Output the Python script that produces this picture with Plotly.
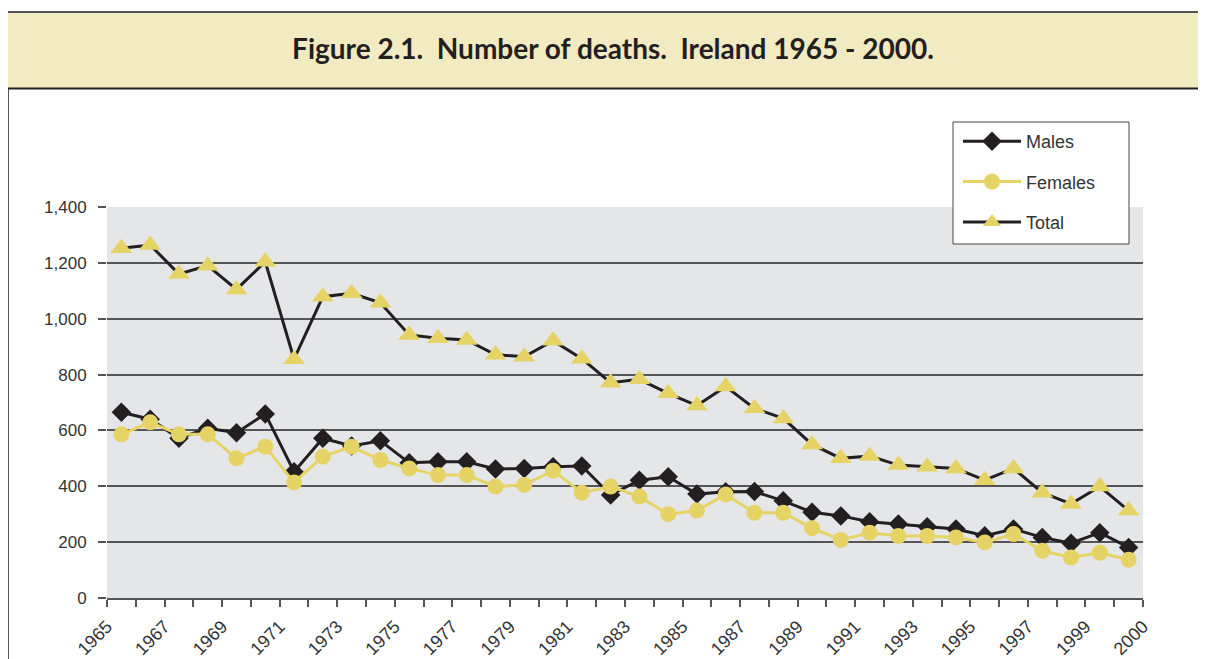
import plotly.graph_objects as go

# ---- data ----
years = list(range(1965, 2001))
males = [665, 640, 572, 608, 592, 659, 452, 572, 544, 563, 484, 488,
         488, 462, 464, 470, 473, 369, 422, 434, 372, 380, 381, 348,
         307, 294, 273, 265, 255, 247, 223, 247, 217, 196, 234, 181]
females = [586, 629, 586, 586, 500, 542, 414, 506, 542, 494, 464, 440,
           440, 399, 405, 456, 377, 399, 363, 300, 313, 371, 305, 305,
           250, 208, 234, 222, 222, 217, 199, 229, 169, 145, 162, 137]
total = [1252, 1264, 1160, 1190, 1105, 1204, 855, 1079, 1091, 1057, 942, 930,
         924, 871, 864, 921, 857, 771, 783, 733, 689, 757, 679, 643,
         550, 500, 508, 476, 470, 464, 422, 464, 377, 337, 399, 313]
tick_labels = ["1965", "1967", "1969", "1971", "1973", "1975", "1977", "1979",
               "1981", "1983", "1985", "1987", "1989", "1991", "1993", "1995",
               "1997", "1999", "2000"]
y_ticks = [0, 200, 400, 600, 800, 1000, 1200, 1400]

# ---- style ----
DARK = "#231f20"
YELLOW = "#e6d366"
GRID = "#555555"
OFF = 8  # page body margin
W, H = 1206, 659 - OFF
# reference pixel geometry (page coordinates)
L, R, T, B = 107, 1143, 207, 598

def px(x):
    return (x - L) / (R - L)

def py(y):
    return (B - y) / (B - T)

fig = go.Figure()
fig.add_trace(go.Scatter(
    x=years, y=males, name="Males", mode="lines+markers", legendgroup="m",
    line=dict(color=DARK, width=3),
    marker=dict(symbol="diamond", size=15, color=DARK)))
fig.add_trace(go.Scatter(
    x=years, y=females, name="Females", mode="lines+markers", legendgroup="f",
    line=dict(color=YELLOW, width=3),
    marker=dict(symbol="circle", size=16, color=YELLOW)))
fig.add_trace(go.Scatter(
    x=years, y=total, name="Total", mode="lines+markers", legendgroup="t",
    line=dict(color=DARK, width=3),
    marker=dict(symbol="triangle-up", size=19, color=YELLOW)))

# tick positions at category boundaries
tickvals = [years[0] - 0.5 + 2 * i for i in range(len(tick_labels) - 1)] + [years[-1] + 0.5]

fig.update_layout(
    width=W, height=H,
    margin=dict(l=L - OFF, r=W - (R - OFF), t=T - OFF, b=H - (B - OFF), pad=0,
                autoexpand=False),
    paper_bgcolor="white",
    plot_bgcolor="#e5e6e8",
    font=dict(family="Liberation Sans, Arial, sans-serif", size=17, color="#333333"),
    title=dict(text="Figure 2.1.  Number of deaths.  Ireland 1965 - 2000.",
               x=(613 - OFF) / W, xanchor="center", xref="container",
               y=1 - (49 - OFF) / H, yanchor="middle", yref="container",
               font=dict(family="Lato, sans-serif", size=28, color=DARK, weight="bold")),
    showlegend=True,
    legend=dict(x=px(958), y=py(123), xanchor="left", yanchor="top",
                bgcolor="rgba(0,0,0,0)", borderwidth=0,
                font=dict(size=18, color="#333333"),
                tracegroupgap=14, itemwidth=58),
    xaxis=dict(range=[years[0] - 0.5, years[-1] + 0.5], automargin=False,
               tickmode="array", tickvals=tickvals, ticktext=tick_labels,
               tickangle=-45, ticks="outside", ticklen=7, tickcolor=GRID, tickwidth=1.5,
               ticklabelstandoff=2,
               showline=True, linecolor=GRID, linewidth=2,
               showgrid=False, zeroline=False,
               tickfont=dict(size=18, color="#333333"),
               minor=dict(tickmode="linear", tick0=years[0] - 0.5, dtick=1,
                          ticks="outside", ticklen=7, tickcolor=GRID, tickwidth=1.5,
                          showgrid=False)),
    yaxis=dict(range=[0, 1400], tickmode="array", tickvals=y_ticks, automargin=False,
               tickformat=",d", ticks="outside", ticklen=8, tickcolor=GRID, tickwidth=1.5,
               ticklabelstandoff=8,
               showgrid=True, gridcolor=GRID, gridwidth=1.5,
               zeroline=False, showline=False,
               tickfont=dict(size=17, color="#333333")),
    shapes=[
        # beige title band
        dict(type="rect", xref="paper", yref="paper",
             x0=px(8), x1=px(1230), y0=py(88), y1=py(12),
             fillcolor="#f2eac1", line=dict(width=0), layer="below"),
        # top gray rule
        dict(type="line", xref="paper", yref="paper",
             x0=px(8), x1=px(1230), y0=py(12), y1=py(12),
             line=dict(color="#555555", width=2)),
        # box top rule
        dict(type="line", xref="paper", yref="paper",
             x0=px(8), x1=px(1230), y0=py(88.5), y1=py(88.5),
             line=dict(color=DARK, width=2)),
        # box left rule
        dict(type="line", xref="paper", yref="paper",
             x0=px(8), x1=px(8), y0=py(88.5), y1=py(670),
             line=dict(color=DARK, width=1.5)),
        # legend box
        dict(type="rect", xref="paper", yref="paper",
             x0=px(953), x1=px(1129), y0=py(244), y1=py(122),
             fillcolor="white", line=dict(color="#444444", width=1), layer="above"),
    ],
)

fig.write_html("out.html")
